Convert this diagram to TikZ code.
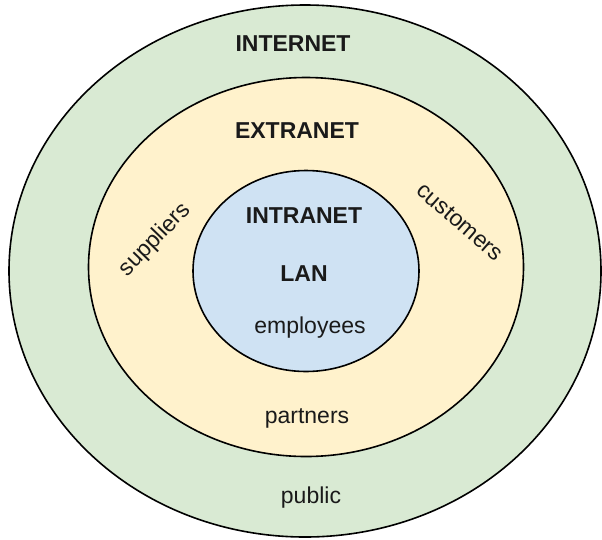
\documentclass[tikz,border=0pt]{standalone}
\usepackage{fontspec}
\setmainfont{Liberation Sans}
\usepackage{tikz}
\usetikzlibrary{positioning,shapes.geometric}
\usepackage{xcolor}
\definecolor{netgreen}{HTML}{D9EAD3}
\definecolor{netyellow}{HTML}{FFF2CC}
\definecolor{netblue}{HTML}{CFE2F3}
\definecolor{labelgray}{HTML}{1A1A1A}

\begin{document}
\begin{tikzpicture}[x=1pt,y=-1pt,
    zone/.style={draw,ellipse,line width=1.6pt,inner sep=0pt},
    title/.style={anchor=base,font=\fontsize{23}{27}\selectfont\bfseries,text=labelgray},
    who/.style={font=\fontsize{23}{27}\selectfont,text=labelgray}]
    \useasboundingbox (0,0) rectangle (602,539);

    % Internet
    \node[zone,fill=netgreen,minimum width=592pt,minimum height=532pt] (internet) at (305,271) {};
    % Extranet
    \node[zone,fill=netyellow,minimum width=435pt,minimum height=379pt] (extranet) at (306,267) {};
    % Intranet
    \node[zone,fill=netblue,minimum width=226pt,minimum height=201pt] (intranet) at (306,271) {};

    % Titles
    \node[title] (internettxt) at (293,51) {INTERNET};
    \node[title] (extranettxt) at (297,138) {EXTRANET};
    \node[title] (intranettxt) at (304,223) {INTRANET};
    \node[title] (lantxt) at (304,281) {LAN};

    % Who is in each zone
    \node[who,anchor=base] (employees) at (310,333) {employees};
    \node[who,anchor=base] (partners) at (307,423) {partners};
    \node[who,anchor=base] (public) at (311,503) {public};
    \node[who,rotate=46] (suppliers) at (155,240) {suppliers};
    \node[who,rotate=-41] (customers) at (460,222) {customers};
\end{tikzpicture}
\end{document}
